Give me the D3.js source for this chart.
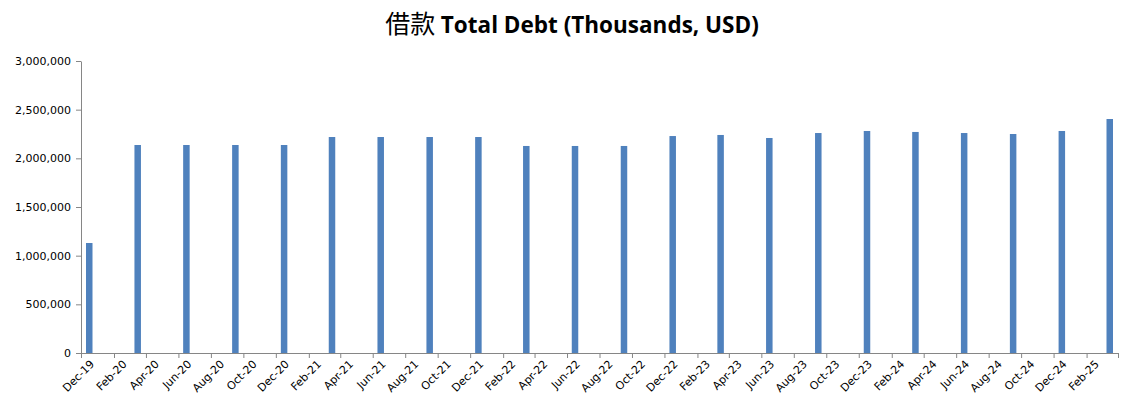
<!DOCTYPE html>
<html>
<head>
<meta charset="utf-8">
<script src="https://cdn.jsdelivr.net/npm/d3@7"></script>
<style>
  html, body { margin: 0; padding: 0; background: #fff; }
  svg { display: block; }
</style>
</head>
<body>
<svg id="chart" width="1131" height="403"></svg>
<script>
// ---- Data ----
const barMonths = ["2019-12","2020-03","2020-06","2020-09","2020-12","2021-03","2021-06","2021-09","2021-12",
  "2022-03","2022-06","2022-09","2022-12","2023-03","2023-06","2023-09","2023-12",
  "2024-03","2024-06","2024-09","2024-12","2025-03"];
const debtValues = [1130000, 2137000, 2137000, 2137000, 2137000, 2219000, 2219000, 2219000, 2219000,
  2127000, 2127000, 2127000, 2229000, 2240000, 2209000, 2260000, 2281000,
  2271000, 2260000, 2250000, 2281000, 2404000];
const tickLabels = ["Dec-19","Feb-20","Apr-20","Jun-20","Aug-20","Oct-20","Dec-20","Feb-21","Apr-21","Jun-21",
  "Aug-21","Oct-21","Dec-21","Feb-22","Apr-22","Jun-22","Aug-22","Oct-22","Dec-22","Feb-23","Apr-23",
  "Jun-23","Aug-23","Oct-23","Dec-23","Feb-24","Apr-24","Jun-24","Aug-24","Oct-24","Dec-24","Feb-25"];
const yTicks = [0, 500000, 1000000, 1500000, 2000000, 2500000, 3000000];
const titleCJK = "借款";
const titleLatin = "Total Debt (Thousands, USD)";

// ---- Layout ----
const svg = d3.select("#chart");
const plotLeft = 81, plotRight = 1118, plotTop = 61, plotBottom = 353;
const axisColor = "#868686";
const barColor = "#4F81BD";

const parseMonth = d3.timeParse("%Y-%m");
const parseTick = d3.timeParse("%b-%y");
const domainStart = parseMonth("2019-12");
const domainEnd = parseMonth("2025-04");

const x = d3.scaleTime().domain([domainStart, domainEnd]).range([plotLeft, plotRight]);
const y = d3.scaleLinear().domain([0, 3000000]).range([plotBottom, plotTop]);

const slotCenter = d => (x(d) + x(d3.timeMonth.offset(d, 1))) / 2;

// Title
const title = svg.append("text")
  .attr("x", 572).attr("y", 33)
  .attr("text-anchor", "middle")
  .attr("fill", "#000");
title.append("tspan")
  .attr("font-family", "'Noto Sans CJK SC', sans-serif")
  .attr("font-size", 25)
  .text(titleCJK + " ");
title.append("tspan")
  .attr("font-family", "'Open Sans', sans-serif")
  .attr("font-weight", "bold")
  .attr("font-size", 22.5)
  .text(titleLatin);

// Y axis
const yAxis = svg.append("g")
  .attr("transform", `translate(${plotLeft},0)`)
  .call(d3.axisLeft(y).tickValues(yTicks).tickFormat(d3.format(",")).tickSize(5).tickSizeOuter(0).tickPadding(5));
yAxis.select(".domain").attr("stroke", axisColor);
yAxis.selectAll(".tick line").attr("stroke", axisColor);
yAxis.selectAll(".tick text")
  .attr("font-family", "'DejaVu Sans', sans-serif")
  .attr("font-size", 11)
  .attr("fill", "#000");

// Bars
const bars = barMonths.map((m, i) => ({ date: parseMonth(m), value: debtValues[i] }));
const barW = 6.5;
svg.append("g").selectAll("rect")
  .data(bars)
  .join("rect")
  .attr("x", d => slotCenter(d.date) - barW / 2)
  .attr("y", d => y(d.value))
  .attr("width", barW)
  .attr("height", d => y(0) - y(d.value))
  .attr("fill", barColor);

// X axis (ticks at month boundaries every 2 months)
const tickDates = tickLabels.map(t => parseTick(t)).concat([domainEnd]);
const xAxis = svg.append("g")
  .attr("transform", `translate(0,${plotBottom})`)
  .call(d3.axisBottom(x).tickValues(tickDates).tickFormat("").tickSize(5).tickSizeOuter(0));
xAxis.select(".domain").attr("stroke", axisColor);
xAxis.selectAll(".tick line").attr("stroke", axisColor);

// X labels rotated, anchored at slot centers
svg.append("g").selectAll("text")
  .data(tickLabels)
  .join("text")
  .attr("transform", t => `translate(${slotCenter(parseTick(t)) + 3},${plotBottom + 9}) rotate(-45)`)
  .attr("text-anchor", "end")
  .attr("dy", "0.35em")
  .attr("font-family", "'DejaVu Sans', sans-serif")
  .attr("font-size", 11)
  .attr("fill", "#000")
  .text(t => t);
</script>
</body>
</html>
